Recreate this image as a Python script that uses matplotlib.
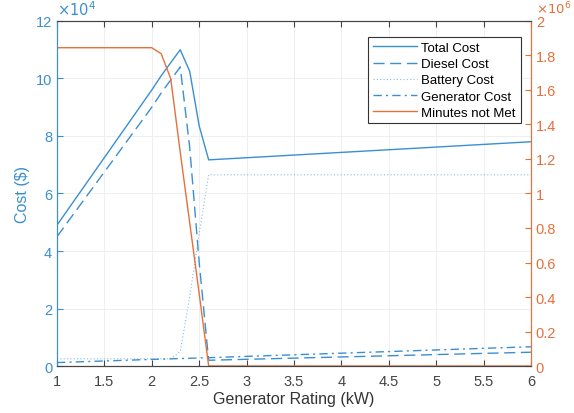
import matplotlib
matplotlib.use("Agg")
import matplotlib.pyplot as plt

# generator rating (kW)
rating = [1.0, 2.0, 2.1, 2.2, 2.3, 2.4, 2.5, 2.6, 6.0]

# costs ($)
total_cost = [4.9e4, 9.6e4, 10.1e4, 10.55e4, 11.0e4, 10.25e4, 8.35e4, 7.17e4, 7.8e4]
diesel_cost = [4.5e4, 9.0e4, 9.5e4, 9.95e4, 10.4e4, 7.6e4, 3.6e4, 0.2e4, 0.48e4]
battery_cost = [0.25e4, 0.25e4, 0.25e4, 0.25e4, 0.5e4, 2.4e4, 4.6e4, 6.65e4, 6.65e4]
generator_cost = [0.12e4, 0.23e4, 0.24e4, 0.25e4, 0.26e4, 0.27e4, 0.28e4, 0.29e4, 0.67e4]

# unmet load (minutes)
minutes_not_met = [1.845e6, 1.845e6, 1.81e6, 1.665e6, 1.24e6, 0.83e6, 0.42e6, 0.0, 0.0]

BLUE = "#3a8fd2"
ORANGE = "#e5703c"
GREY = "#444444"

plt.rcParams["font.family"] = ["Liberation Sans", "DejaVu Sans"]

fig = plt.figure(figsize=(5.74, 4.14), dpi=100)
ax = fig.add_axes([0.0993, 0.1135, 0.8257, 0.8334])
ax2 = ax.twinx()

s = 1e4
h1, = ax.plot(rating, [v / s for v in total_cost], color=BLUE, lw=1.0, label="Total Cost")
h2, = ax.plot(rating, [v / s for v in diesel_cost], color=BLUE, lw=1.0,
              dashes=(8, 4), label="Diesel Cost")
h3, = ax.plot(rating, [v / s for v in battery_cost], color=BLUE, lw=0.8, alpha=0.6,
              linestyle=(0, (1, 2)), label="Battery Cost")
h4, = ax.plot(rating, [v / s for v in generator_cost], color=BLUE, lw=1.0,
              dashes=(6, 3, 1.5, 3), label="Generator Cost")
h5, = ax2.plot(rating, [v / 1e6 for v in minutes_not_met], color=ORANGE, lw=1.0,
               label="Minutes not Met")

ax.set_xlim(1, 6)
ax.set_ylim(0, 12)
ax2.set_ylim(0, 2)
ax.set_xticks([1, 1.5, 2, 2.5, 3, 3.5, 4, 4.5, 5, 5.5, 6])
ax.set_xticklabels(["1", "1.5", "2", "2.5", "3", "3.5", "4", "4.5", "5", "5.5", "6"])
ax.set_yticks(range(0, 13, 2))
ax2.set_yticks([i / 10 for i in range(0, 21, 2)])
ax2.set_yticklabels(["0", "0.2", "0.4", "0.6", "0.8", "1", "1.2", "1.4", "1.6", "1.8", "2"])

ax.grid(True, color="#ececec", lw=0.6)
ax.set_axisbelow(True)

ax.tick_params(axis="x", direction="in", top=True, colors=GREY, labelsize=10.5,
               length=4, pad=6)
ax.tick_params(axis="y", direction="in", colors=BLUE, labelsize=10.5, length=4)
ax2.tick_params(axis="y", direction="in", colors=ORANGE, labelsize=10.5, length=4)

for a in (ax, ax2):
    a.spines["top"].set_color(GREY)
    a.spines["bottom"].set_color(GREY)
    a.spines["left"].set_color(BLUE)
    a.spines["right"].set_color(ORANGE)
    for sp in a.spines.values():
        sp.set_linewidth(0.8)

ax.set_xlabel("Generator Rating (kW)", fontsize=11.5, color="#333333", labelpad=2)
ax.set_ylabel("Cost ($)", fontsize=11.5, color=BLUE)

ax.text(0.0, 1.008, r"$\times10^4$", transform=ax.transAxes, color=BLUE,
        fontsize=10.5, ha="left", va="bottom")
ax2.text(1.01, 1.021, r"$\times10^6$", transform=ax2.transAxes, color=ORANGE,
         fontsize=9.5, ha="left", va="baseline")

leg = ax2.legend(handles=[h1, h2, h3, h4, h5], loc="upper right",
                 bbox_to_anchor=(0.992, 0.972), fontsize=9.5, handlelength=3.4,
                 fancybox=False, framealpha=1, edgecolor="#333333",
                 borderpad=0.35, labelspacing=0.3, handletextpad=0.3)
leg.get_frame().set_linewidth(0.8)

fig.savefig("out.png", dpi=100)
